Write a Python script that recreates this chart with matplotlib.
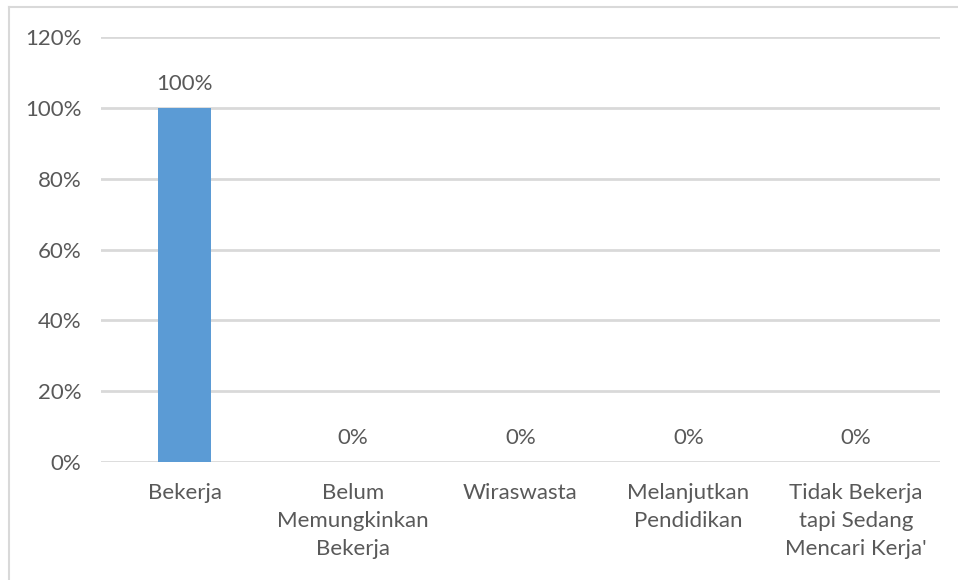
import matplotlib
matplotlib.use("Agg")
import matplotlib.pyplot as plt
from matplotlib.lines import Line2D

categories = ["Bekerja", "Belum\nMemungkinkan\nBekerja", "Wiraswasta",
              "Melanjutkan\nPendidikan", "Tidak Bekerja\ntapi Sedang\nMencari Kerja'"]
values = [100, 0, 0, 0, 0]
yticks = [0, 20, 40, 60, 80, 100, 120]

plt.rcParams['font.family'] = ['Lato', 'DejaVu Sans']
txt = '#595959'
fs = 16

fig = plt.figure(figsize=(9.58, 5.8), dpi=100)
W, H = 958, 580
ax = fig.add_axes([101 / W, 1 - 462 / H, (940 - 101) / W, (462 - 37) / H])

x = list(range(len(categories)))
ax.bar(x, values, width=0.315, color='#5B9BD5', zorder=3)
ax.set_xlim(-0.5, len(categories) - 0.5)
ax.set_ylim(0, 120)
ax.set_yticks(yticks)
ax.set_yticklabels([f"{v}%" for v in yticks], color=txt, fontsize=fs)
ax.set_xticks(x)
ax.set_xticklabels(categories, color=txt, fontsize=fs, linespacing=1.52, va='top')
ax.tick_params(axis='both', length=0)
ax.tick_params(axis='y', pad=14)
ax.tick_params(axis='x', pad=15)
ax.grid(axis='y', color='#d9d9d9', linewidth=2, zorder=0)
for s in ax.spines.values():
    s.set_visible(False)

for xi, v in zip(x, values):
    ax.annotate(f"{v}%", (xi, v), xytext=(0, 10), textcoords='offset points',
                ha='center', va='bottom', color=txt, fontsize=fs)

# figure border (left and top)
fig.add_artist(Line2D([8.5 / W, 8.5 / W], [0, 1 - 6.5 / H], transform=fig.transFigure,
                      color='#d9d9d9', linewidth=1.5))
fig.add_artist(Line2D([8.5 / W, 1], [1 - 6.5 / H, 1 - 6.5 / H], transform=fig.transFigure,
                      color='#d9d9d9', linewidth=1.5))

fig.savefig("out.png", dpi=100)
